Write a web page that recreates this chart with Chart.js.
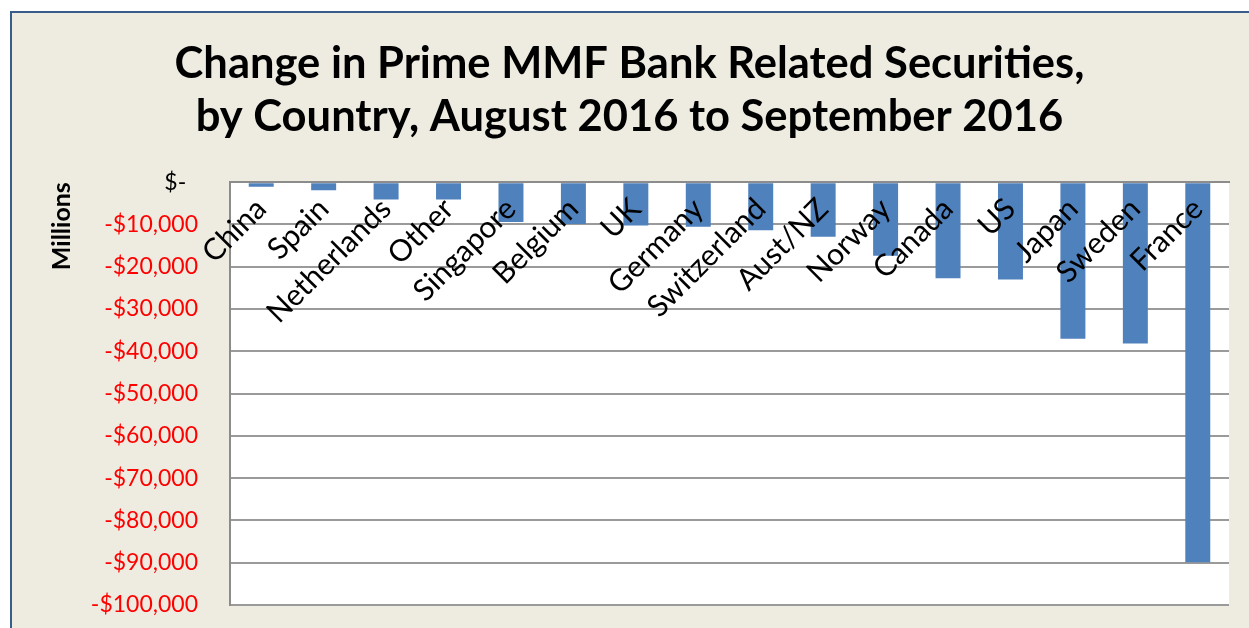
<!DOCTYPE html>
<html>
<head>
<meta charset="utf-8">
<script src="https://cdn.jsdelivr.net/npm/chart.js@4.4.0/dist/chart.umd.min.js"></script>
<style>
  html, body { margin: 0; padding: 0; background: #fff; overflow: hidden; }
  #frame { position: absolute; left: 10px; top: 11px; width: 1260px; height: 640px; background: #EEECE1; border: 2px solid #385D8A; }
  #wrap { position: absolute; left: 0; top: 0; width: 1249px; height: 628px; }
</style>
</head>
<body>
<div id="frame"></div>
<div id="wrap"><canvas id="chart" width="1249" height="628"></canvas></div>
<script>
// change in holdings, $ millions (Aug 2016 -> Sep 2016)
const countries = ["China", "Spain", "Netherlands", "Other", "Singapore", "Belgium", "UK", "Germany",
  "Switzerland", "Aust/NZ", "Norway", "Canada", "US", "Japan", "Sweden", "France"];
const changes = [-1100, -1900, -4100, -4100, -9450, -9900, -10250, -10550,
  -11350, -12900, -17400, -22700, -23000, -37050, -38150, -89900];
const yMin = -100000;
const yMax = 0;
const yStep = 10000;

const plotBackground = {
  id: "plotBackground",
  beforeDraw(chart) {
    const { ctx, chartArea: a } = chart;
    ctx.save();
    ctx.fillStyle = "#ffffff";
    ctx.fillRect(a.left, a.top, a.right - a.left, a.bottom - a.top);
    ctx.restore();
  }
};

function money(v) {
  if (v === 0) return "$-  ";
  return "-$" + Math.abs(v).toLocaleString("en-US");
}

new Chart(document.getElementById("chart").getContext("2d"), {
  type: "bar",
  data: {
    labels: countries,
    datasets: [{
      data: changes,
      backgroundColor: "#4F81BD",
      borderWidth: 0,
      categoryPercentage: 1.0,
      barPercentage: 0.4
    }]
  },
  options: {
    responsive: false,
    animation: false,
    devicePixelRatio: 1,
    layout: { padding: { left: 30, right: 20, bottom: 23, top: 0 } },
    plugins: {
      legend: { display: false },
      tooltip: { enabled: false },
      title: {
        display: true,
        text: ["Change in Prime MMF Bank Related Securities,", "by Country, August 2016 to September 2016"],
        color: "#000",
        font: { family: "Lato", size: 43.5, weight: "bold", lineHeight: 1.22 },
        padding: { top: 37, bottom: 39 }
      }
    },
    scales: {
      x: {
        position: { y: 0 },
        afterFit(scale) { scale.height = 0; },
        grid: { display: false },
        border: { display: true, color: "#8C8C8C", width: 2 },
        ticks: {
          z: 1,
          autoSkip: false,
          minRotation: 45,
          maxRotation: 45,
          padding: 1,
          color: "#000",
          font: { family: "Lato", size: 30 }
        }
      },
      y: {
        min: yMin,
        max: yMax,
        afterFit(scale) {
          scale.width = 200;
          // keep the wide label gap from eating into the plot height
          scale.paddingTop = 14;
          scale.paddingBottom = 14;
        },
        grid: { color: "#9A9A9A", lineWidth: 2, drawTicks: false },
        border: { display: true, color: "#8C8C8C", width: 2 },
        ticks: {
          stepSize: yStep,
          padding: 32,
          font: { family: "Lato", size: 23 },
          color: (c) => (c.tick && c.tick.value === 0 ? "#000" : "#FF0000"),
          callback: (v) => money(v)
        },
        title: {
          display: true,
          text: "Millions",
          align: "end",
          color: "#000",
          font: { family: "Lato", size: 25, weight: "bold" },
          padding: { top: 17, bottom: 0 }
        }
      }
    }
  },
  plugins: [plotBackground]
});
</script>
</body>
</html>
